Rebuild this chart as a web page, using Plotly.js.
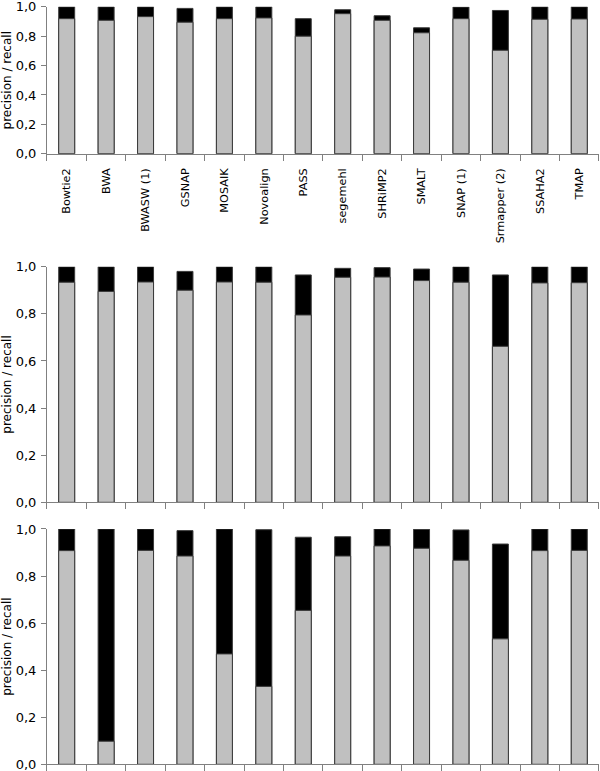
<!DOCTYPE html>
<html>
<head>
<meta charset="utf-8">
<script src="https://cdn.plot.ly/plotly-3.0.1.min.js"></script>
<style>html,body{margin:0;padding:0;background:#fff;}#chart{width:600px;height:771px;}</style>
</head>
<body>
<div id="chart"></div>
<script>
const categories = ["Bowtie2","BWA","BWASW (1)","GSNAP","MOSAIK","Novoalign","PASS","segemehl","SHRiMP2","SMALT","SNAP (1)","Srmapper (2)","SSAHA2","TMAP"];

// Panel 1
const top1 = [1.0, 1.0, 1.0, 0.989, 1.0, 1.0, 0.919, 0.980, 0.939, 0.857, 0.998, 0.975, 1.0, 1.0];
const low1 = [0.919, 0.908, 0.933, 0.895, 0.919, 0.924, 0.800, 0.953, 0.908, 0.823, 0.919, 0.704, 0.915, 0.917];
// Panel 2
const top2 = [1.0, 1.0, 1.0, 0.980, 1.0, 1.0, 0.965, 0.993, 0.996, 0.990, 1.0, 0.965, 1.0, 1.0];
const low2 = [0.934, 0.895, 0.935, 0.900, 0.935, 0.934, 0.795, 0.955, 0.956, 0.941, 0.934, 0.662, 0.931, 0.932];
// Panel 3
const top3 = [1.0, 1.0, 1.0, 0.993, 1.0, 0.997, 0.965, 0.967, 1.0, 0.999, 0.996, 0.936, 1.0, 1.0];
const low3 = [0.908, 0.098, 0.909, 0.885, 0.469, 0.331, 0.654, 0.885, 0.928, 0.918, 0.867, 0.533, 0.908, 0.909];

const yTickVals = [0, 0.2, 0.4, 0.6, 0.8, 1.0];

const outline = {color: '#3a3a3a', width: 1};
function pair(top, low, xa, ya) {
  return [
    {type: 'bar', x: categories, y: top, xaxis: xa, yaxis: ya,
     marker: {color: '#000000', line: outline}, hoverinfo: 'skip', showlegend: false},
    {type: 'bar', x: categories, y: low, xaxis: xa, yaxis: ya,
     marker: {color: '#c0c0c0', line: outline}, hoverinfo: 'skip', showlegend: false}
  ];
}

const data = [].concat(
  pair(top1, low1, 'x', 'y'),
  pair(top2, low2, 'x2', 'y2'),
  pair(top3, low3, 'x3', 'y3')
);

const fontFam = 'DejaVu Sans, sans-serif';
function xax(anchor, showLabels) {
  return {
    anchor: anchor, domain: [0.0783, 0.9983], type: 'category',
    range: [-0.5, 13.5], tickson: 'boundaries', ticks: 'outside', ticklen: 6,
    tickcolor: '#808080', tickwidth: 1, showline: true, linecolor: '#808080', linewidth: 1,
    showgrid: false, zeroline: false, showticklabels: showLabels, tickangle: -90,
    ticklabelstandoff: 9,
    tickfont: {family: fontFam, size: 11.3, color: '#000'}, automargin: false, fixedrange: true
  };
}
function yax(anchor, domain) {
  return {
    anchor: anchor, domain: domain, range: [0, 1], tickvals: yTickVals, tickformat: '.1f',
    ticks: 'outside', ticklen: 5, tickcolor: '#808080', tickwidth: 1,
    showline: true, linecolor: '#808080', linewidth: 1, showgrid: false, zeroline: false,
    ticklabeloverflow: 'allow', ticklabelstandoff: 2,
    tickfont: {family: fontFam, size: 13, color: '#000'},
    title: {text: 'precision / recall', font: {family: fontFam, size: 12, color: '#000'}, standoff: 6},
    automargin: false, fixedrange: true
  };
}

const layout = {
  width: 600, height: 771,
  margin: {l: 0, r: 0, t: 0, b: 0},
  paper_bgcolor: '#ffffff', plot_bgcolor: '#ffffff',
  barmode: 'overlay', bargap: 0.595,
  separators: ',.',
  font: {family: fontFam, size: 12, color: '#000'},
  xaxis: xax('y', true),
  yaxis: yax('x', [0.8006, 0.9912]),
  xaxis2: xax('y2', false),
  yaxis2: yax('x2', [0.3485, 0.6541]),
  xaxis3: xax('y3', false),
  yaxis3: yax('x3', [0.0087, 0.3139])
};

Plotly.newPlot('chart', data, layout, {staticPlot: true, displayModeBar: false});
</script>
</body>
</html>
